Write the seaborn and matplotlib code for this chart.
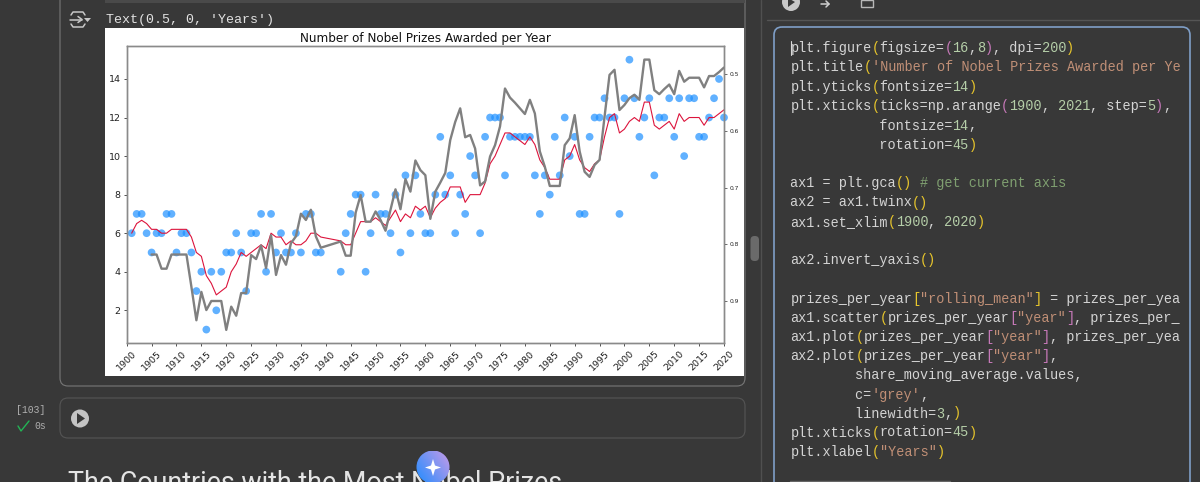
import numpy as np
import pandas as pd
import matplotlib
matplotlib.use("Agg")
import matplotlib.pyplot as plt
import seaborn as sns
from matplotlib.colors import LinearSegmentedColormap
from matplotlib.patches import Circle, FancyBboxPatch, Polygon, Rectangle

sns.set_theme(style="white")
plt.rcParams["font.family"] = ["DejaVu Sans"]

# years missing 1940-42: no prizes were awarded
years = list(range(1901, 1940)) + list(range(1943, 2021))

prizes = [6, 7, 7, 6, 5, 6, 6, 7, 7, 5, 6, 6, 5, 3, 4, 1, 4, 2, 4, 5,
          5, 6, 5, 3, 6, 6, 7, 4, 7, 5, 6, 5, 5, 6, 5, 7, 7, 5, 5,
          4, 6, 7, 8, 8, 4, 6, 8,
          7, 7, 6, 8, 5, 9, 6, 9, 7, 6,
          6, 8, 11, 8, 9, 6, 8, 7, 10, 9,
          6, 11, 12, 12, 12, 9, 11, 11, 11, 11,
          11, 9, 7, 9, 8, 11, 9, 12, 10, 11,
          7, 7, 11, 12, 12, 13, 12, 12, 7, 13,
          15, 13, 11, 12, 13, 9, 12, 12, 13, 11,
          13, 10, 13, 13, 11, 11, 12, 13, 14, 12]

rolling_mean = [6.0, 6.5, 6.67, 6.5, 6.2, 6.2, 6.0, 6.0, 6.2, 6.2, 6.2, 6.2, 5.8, 5.0, 4.8, 3.8, 3.4, 2.8, 3.0, 3.2,
                4.0, 4.4, 5.0, 4.8, 5.0, 5.2, 5.4, 5.2, 6.0, 5.8, 5.8, 5.4, 5.6, 5.4, 5.4, 5.6, 6.0, 6.0, 5.8,
                5.6, 5.4, 5.4, 6.0, 6.6, 6.6, 6.6, 6.8,
                6.6, 6.4, 6.8, 7.2, 6.6, 7.0, 6.8, 7.4, 7.2, 7.4,
                6.8, 7.3, 7.6, 7.8, 8.4, 8.4, 8.4, 7.6, 8.0, 8.0,
                8.0, 8.6, 9.6, 10.0, 10.6, 11.2, 11.2, 11.0, 10.8, 10.6,
                11.0, 10.6, 9.8, 9.4, 8.8, 8.8, 8.8, 9.8, 10.0, 10.6,
                9.8, 9.4, 9.2, 9.6, 9.8, 11.0, 12.0, 12.2, 11.2, 11.4,
                11.8, 12.0, 11.8, 12.8, 12.8, 11.6, 11.4, 11.6, 11.8, 11.4,
                12.2, 11.8, 12.0, 12.0, 12.0, 11.6, 12.0, 12.0, 12.2, 12.4]

# share moving average starts in 1905 (first 4 years are NaN)
share_years = list(range(1905, 1940)) + list(range(1943, 2021))
share_avg = [.818, .818, .843, .843, .818, .818, .818, .818, .875, .934, .884, .916, .900, .900, .900, .951,
             .910, .926, .886, .886, .819, .826, .802, .842, .784, .854, .819, .836, .798, .786, .746, .757, .739, .786, .806,
             .795, .820, .820, .744, .713, .760, .760, .742,
             .757, .776, .739, .703, .738, .685, .707, .652, .669, .678,
             .755, .707, .691, .674, .616, .584, .560, .611, .607, .631,
             .696, .689, .645, .625, .592, .525, .541, .550, .560, .570,
             .545, .569, .636, .663, .697, .697, .697, .625, .613, .572,
             .636, .672, .681, .660, .651, .575, .501, .492, .563, .554,
             .542, .536, .545, .474, .474, .528, .535, .526, .518, .535,
             .494, .513, .506, .506, .506, .523, .503, .503, .496, .488]

x_ticks = np.arange(1900, 2021, step=5)
y_ticks = [2, 4, 6, 8, 10, 12, 14]
share_ticks = [0.5, 0.6, 0.7, 0.8, 0.9]

# notebook code cell: (text, colour) tokens per line
WHITE, ORANGE, GREEN, NUM = "#d4d4d4", "#c08f76", "#7f9f70", "#b5cea8"
YEL, PINK = "#e8c62c", "#c678b8"
code_lines = [
    (48, [("plt.figure", WHITE), ("(", YEL), ("figsize=", WHITE), ("(", PINK), ("16", NUM), (",", WHITE), ("8", NUM), (")", PINK), (", dpi=", WHITE), ("200", NUM), (")", YEL)]),
    (67.5, [("plt.title", WHITE), ("(", YEL), ("'Number of Nobel Prizes Awarded per Ye", ORANGE)]),
    (87, [("plt.yticks", WHITE), ("(", YEL), ("fontsize=", WHITE), ("14", NUM), (")", YEL)]),
    (106, [("plt.xticks", WHITE), ("(", YEL), ("ticks=np.arange", WHITE), ("(", PINK), ("1900", NUM), (", ", WHITE), ("2021", NUM), (", step=", WHITE), ("5", NUM), (")", PINK), (",", WHITE)]),
    (125.5, [("           fontsize=", WHITE), ("14", NUM), (",", WHITE)]),
    (145, [("           rotation=", WHITE), ("45", NUM), (")", YEL)]),
    (183, [("ax1 = plt.gca", WHITE), ("()", YEL), (" ", WHITE), ("# get current axis", GREEN)]),
    (202.5, [("ax2 = ax1.twinx", WHITE), ("()", YEL)]),
    (222, [("ax1.set_xlim", WHITE), ("(", YEL), ("1900", NUM), (", ", WHITE), ("2020", NUM), (")", YEL)]),
    (260, [("ax2.invert_yaxis", WHITE), ("()", YEL)]),
    (298.5, [("prizes_per_year", WHITE), ("[", YEL), ('"rolling_mean"', ORANGE), ("]", YEL), (" = prizes_per_yea", WHITE)]),
    (318, [("ax1.scatter", WHITE), ("(", YEL), ("prizes_per_year", WHITE), ("[", PINK), ('"year"', ORANGE), ("]", PINK), (", prizes_per_", WHITE)]),
    (337, [("ax1.plot", WHITE), ("(", YEL), ("prizes_per_year", WHITE), ("[", PINK), ('"year"', ORANGE), ("]", PINK), (", prizes_per_yea", WHITE)]),
    (356, [("ax2.plot", WHITE), ("(", YEL), ("prizes_per_year", WHITE), ("[", PINK), ('"year"', ORANGE), ("]", PINK), (",", WHITE)]),
    (375.5, [("        share_moving_average.values,", WHITE)]),
    (395, [("        c=", WHITE), ("'grey'", ORANGE), (",", WHITE)]),
    (413.5, [("        linewidth=", WHITE), ("3", NUM), (",", WHITE), (")", YEL)]),
    (432.5, [("plt.xticks", WHITE), ("(", YEL), ("rotation=", WHITE), ("45", NUM), (")", YEL)]),
    (452, [("plt.xlabel", WHITE), ("(", YEL), ('"Years"', ORANGE), (")", YEL)]),
]

W, H = 1200, 482
fig = plt.figure(figsize=(W / 100, H / 100), dpi=100, facecolor="#383838")

# page furniture, in screenshot pixels
bg = fig.add_axes([0, 0, 1, 1], zorder=0)
bg.axis("off")
bg.add_patch(FancyBboxPatch((60, -20), 685, 406, boxstyle="round,pad=0,rounding_size=8", fc="none", ec="#777777", lw=0.8))
bg.add_patch(FancyBboxPatch((60, 398), 685, 40, boxstyle="round,pad=0,rounding_size=8", fc="none", ec="#555555", lw=0.8))
bg.add_patch(Rectangle((105, 28), 639, 348, fc="white", ec="none"))
bg.add_patch(Rectangle((105, 0), 640, 3, fc="#4a4a4a", ec="none"))
bg.plot([761, 761], [0, H], color="#505050", lw=1)
bg.plot([767, 1200], [20, 20], color="#555555", lw=1)
bg.add_patch(FancyBboxPatch((750.5, 236), 8.5, 25, boxstyle="round,pad=0,rounding_size=4", fc="#6a6a6a", ec="none"))
bg.add_patch(FancyBboxPatch((774, 27), 416, 480, boxstyle="round,pad=0,rounding_size=8", fc="none", ec="#7f9fc8", lw=1.2))

# output icon next to the Text(...) repr
bg.plot([71, 73, 83, 85], [15, 12, 12, 15], color="#c8c8c8", lw=1.1)
bg.plot([71, 73, 83, 85], [24, 27, 27, 24], color="#c8c8c8", lw=1.1)
bg.plot([70, 82], [19.5, 19.5], color="#c8c8c8", lw=1.1)
bg.plot([78, 82, 78], [16.5, 19.5, 22.5], color="#c8c8c8", lw=1.1)
bg.add_patch(Polygon([[84, 18], [91, 18], [87.5, 22]], fc="#c8c8c8", ec="none"))
bg.text(106, 19.5, "Text(0.5, 0, 'Years')", family="Liberation Mono", fontsize=9.6, color="#e2e2e2", va="center")

# run button row
bg.add_patch(Circle((80, 418.5), 9, fc="#c4c4c4", ec="none"))
bg.add_patch(Polygon([[77, 413], [77, 424], [85, 418.5]], fc="#383838", ec="none"))
bg.text(31, 410, "[103]", family="Liberation Mono", fontsize=7, color="#b0b0b0", ha="center", va="center")
bg.plot([18, 21, 29], [426, 431, 421], color="#22b455", lw=1)
bg.text(40, 426, "0s", family="Liberation Mono", fontsize=7, color="#b0b0b0", ha="center", va="center")
# heading runs off the bottom of the screenshot, same as the reference
bg.text(68, 491, "The Countries with the Most Nobel Prizes", fontsize=19.4, family="Roboto", color="#e4e4e4", va="baseline")

# gemini badge over the heading
cmap = LinearSegmentedColormap.from_list("badge", ["#1f8cff", "#c79be8"])
grad = np.linspace(0, 1, 64)[None, :] * 0.6 + np.linspace(1, 0, 64)[:, None] * 0.4
img = bg.imshow(grad, extent=(416, 450, 484, 451), cmap=cmap, aspect="auto", zorder=5)
img.set_clip_path(Circle((433, 467), 16.5, transform=bg.transData))
bg.add_patch(Polygon([[433, 459], [435, 465.5], [441, 467.5], [435, 469.5], [433, 476], [431, 469.5], [425, 467.5], [431, 465.5]], fc="white", ec="none", zorder=6))

# toolbar icons above the code panel
bg.add_patch(Circle((791, 2), 9, fc="#c8c8c8", ec="none"))
bg.add_patch(Polygon([[788, -2], [788, 7], [795, 2]], fc="#383838", ec="none"))
bg.plot([821, 829], [4, 4], color="#d0d0d0", lw=1.1)
bg.plot([826, 829, 826], [1, 4, 7], color="#d0d0d0", lw=1.1)
bg.add_patch(Rectangle((861, 0), 12, 7, fc="none", ec="#b8b8b8", lw=1))

# code text, token by token on a fixed char grid
CHAR_W = 8.1
for y, tokens in code_lines:
    col = 0
    for text, colour in tokens:
        bg.text(790.5 + col * CHAR_W, y, text, family="Liberation Mono", fontsize=9.75, color=colour, va="center", ha="left")
        col += len(text)
bg.plot([790.5, 790.5], [41, 55], color="#d8d8d8", lw=0.8)
bg.plot([790, 950], [481, 481], color="#666666", lw=1)
bg.set_xlim(0, W)
bg.set_ylim(H, 0)

# the chart itself
ax1 = fig.add_axes([126.7 / W, 1 - 342.7 / H, (724 - 126.7) / W, (342.7 - 46) / H], zorder=2)
ax1.set_facecolor("white")
ax2 = ax1.twinx()

prizes_per_year = pd.DataFrame({"year": years, "prizes": prizes, "rolling_mean": rolling_mean})
share_df = pd.DataFrame({"year": share_years, "share": share_avg})

sns.scatterplot(data=prizes_per_year, x="year", y="prizes", ax=ax1, color="dodgerblue", alpha=0.7, s=31, edgecolor="none", clip_on=False)
sns.lineplot(data=prizes_per_year, x="year", y="rolling_mean", ax=ax1, color="crimson", lw=0.8, estimator=None, errorbar=None)
sns.lineplot(data=share_df, x="year", y="share", ax=ax2, color="grey", lw=1.7, estimator=None, errorbar=None)

ax1.set_xlim(1900, 2020)
ax1.set_ylim(0.32, 15.71)
ax2.set_ylim(0.9736, 0.45)
ax1.set_xticks(x_ticks)
ax1.set_xticklabels([str(v) for v in x_ticks], rotation=45, fontsize=6.8, color="#222222")
ax1.set_yticks(y_ticks)
ax1.set_yticklabels([str(v) for v in y_ticks], fontsize=6.8, color="#222222")
ax2.set_yticks(share_ticks)
ax2.set_yticklabels([str(v) for v in share_ticks], fontsize=4.3, color="#222222")
ax1.tick_params(axis="both", length=2.5, width=0.6, color="#333333", pad=2, bottom=True, left=True)
ax2.tick_params(axis="y", length=1.8, width=0.5, color="#333333", pad=2, right=True)
ax1.set_xlabel("")
ax1.set_ylabel("")
ax2.set_xlabel("")
ax2.set_ylabel("")
ax1.set_title("Number of Nobel Prizes Awarded per Year", fontsize=8.65, color="#111111", pad=3)
for ax in (ax1, ax2):
    for spine in ax.spines.values():
        spine.set_color("#8a8a8a")
        spine.set_linewidth(1)

fig.savefig("out.png", dpi=100, facecolor=fig.get_facecolor())
